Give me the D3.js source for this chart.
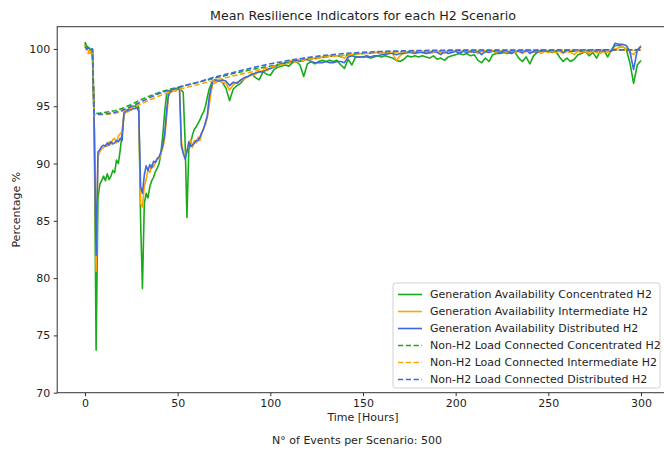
<!DOCTYPE html>
<html>
<head>
<meta charset="utf-8">
<script src="https://cdn.jsdelivr.net/npm/d3@7"></script>
<style>
  html, body { margin: 0; padding: 0; background: #fff; }
  svg { display: block; font-family: "DejaVu Sans", sans-serif; }
</style>
</head>
<body>
<svg id="chart" width="664" height="450"></svg>
<script>
// ---------------- DATA ----------------
const hours = [
  0,1,2,3,4,5,6,7,8,9,
  10,11,12,13,14,15,16,17,18,19,
  20,21,22,23,24,25,26,27,28,29,
  30,31,32,33,34,35,36,37,38,39,
  40,41,42,43,44,45,46,47,48,49,
  50,51,52,53,54,55,56,57,58,59,
  60,61,62,63,64,65,66,67,68,69,
  70,72,74,76,78,80,82,84,86,88,
  90,92,94,96,98,100,102,104,106,108,
  110,112,114,116,118,120,122,124,126,128,
  130,132,134,136,138,140,142,144,146,148,
  150,152,154,156,158,160,162,164,166,168,
  170,172,174,176,178,180,182,184,186,188,
  190,192,194,196,198,200,202,204,206,208,
  210,212,214,216,218,220,222,224,226,228,
  230,232,234,236,238,240,242,244,246,248,
  250,252,254,256,258,260,262,264,266,268,
  270,272,274,276,278,280,282,284,286,288,
  290,292,294,296,298,300
];

const genConcentrated = [
  100.6,100.2,100.1,99.9,99.9,93.0,73.7,87.0,88.2,88.5,
  88.9,88.5,89.1,88.6,88.9,89.4,89.2,90.3,90.0,91.2,
  92.6,94.2,94.6,94.7,94.8,94.9,95.0,95.0,95.1,94.9,
  85.0,79.1,86.5,87.4,87.0,88.0,88.5,88.8,89.3,89.6,
  90.0,91.0,92.5,94.5,96.0,96.3,96.4,96.4,96.5,96.5,
  96.6,96.6,96.4,96.2,92.0,85.3,91.2,91.8,92.5,93.0,
  93.2,93.5,93.8,94.2,94.5,95.0,95.8,96.5,96.9,97.2,
  97.2,97.3,97.1,96.6,95.5,96.5,96.8,97.0,97.4,97.6,
  97.8,97.5,97.3,98.0,97.8,97.7,98.2,98.4,98.5,98.6,
  98.5,98.8,98.9,98.6,97.6,98.7,98.9,98.7,98.9,99.0,
  98.9,99.0,98.9,99.0,98.6,98.3,99.1,98.6,99.3,99.3,
  99.3,99.3,99.2,99.3,99.4,99.3,99.4,99.3,99.2,99.0,
  98.9,99.1,99.4,99.3,99.4,99.3,99.4,99.3,99.2,99.4,
  99.1,99.2,99.0,99.3,99.4,99.5,99.6,99.5,99.6,99.4,
  99.5,99.0,98.8,99.2,98.9,99.5,99.6,99.6,99.7,99.6,
  99.7,99.7,99.2,98.9,99.3,98.7,99.4,99.7,99.8,99.8,
  99.8,99.7,99.8,99.3,98.9,99.2,98.9,99.1,99.5,99.6,
  99.8,99.4,99.7,99.2,99.8,99.9,99.3,99.9,100.3,100.3,
  100.2,100.0,98.8,97.0,98.6,99.0
];

const genIntermediate = [
  100.4,100.0,99.8,99.6,99.9,93.5,80.6,90.6,91.0,91.3,
  91.4,91.6,91.5,91.9,91.7,92.1,92.2,91.8,92.4,92.6,
  92.8,94.3,94.5,94.5,94.6,94.7,94.8,94.8,94.9,94.5,
  86.5,86.2,88.0,88.6,89.5,89.2,89.9,89.7,90.1,90.5,
  90.4,90.9,91.4,92.2,94.0,95.8,96.2,96.3,96.4,96.3,
  96.5,96.5,92.0,91.0,90.6,91.2,91.6,92.1,91.4,92.0,
  91.8,92.3,92.0,92.6,93.1,93.4,94.0,95.0,96.2,97.0,
  97.0,97.2,97.1,97.0,96.4,96.9,97.1,97.2,97.4,97.6,
  97.7,97.8,98.0,98.1,98.1,98.3,98.5,98.6,98.7,98.8,
  98.9,99.0,99.0,99.1,99.1,99.1,99.2,99.2,99.3,99.3,
  99.3,99.4,99.4,99.4,99.3,99.2,99.5,99.5,99.5,99.6,
  99.6,99.6,99.6,99.7,99.7,99.7,99.6,99.7,99.6,99.0,
  99.4,99.7,99.7,99.7,99.7,99.8,99.7,99.7,99.6,99.7,
  99.8,99.7,99.6,99.8,99.8,99.8,99.7,99.8,99.8,99.7,
  99.8,99.6,99.8,99.7,99.8,99.8,99.7,99.8,99.8,99.7,
  99.8,99.7,99.8,99.6,99.8,99.8,99.7,99.8,99.6,99.8,
  99.7,99.8,99.7,99.8,99.6,99.8,99.7,99.5,99.8,99.7,
  99.8,99.6,99.8,99.7,99.6,99.8,99.7,99.8,100.0,100.1,
  100.2,100.0,99.7,99.5,99.9,100.3
];

const genDistributed = [
  100.3,100.0,100.1,99.9,99.9,93.0,82.0,91.0,91.2,91.5,
  91.6,91.5,91.8,91.6,91.9,91.7,91.8,92.0,91.9,92.2,
  92.0,94.4,94.6,94.6,94.7,94.7,94.8,94.8,94.9,94.6,
  88.0,87.4,89.0,89.8,89.4,89.9,89.6,90.2,90.1,90.4,
  90.6,91.0,91.6,92.6,94.5,96.0,96.3,96.3,96.4,96.4,
  96.5,96.5,91.5,90.9,90.4,91.0,91.9,91.5,91.6,91.8,
  92.0,92.0,92.3,92.7,93.0,93.6,94.2,95.8,96.6,97.2,
  97.3,97.2,97.3,97.2,96.8,97.1,97.0,97.3,97.5,97.6,
  97.8,97.9,98.0,98.0,98.2,98.3,98.4,98.6,98.7,98.8,
  98.8,98.9,99.0,98.9,99.0,99.1,98.9,98.8,98.8,98.8,
  98.9,98.8,98.8,98.9,98.9,98.8,99.3,99.4,99.3,99.3,
  99.3,99.4,99.3,99.4,99.4,99.5,99.5,99.6,99.6,99.5,
  99.6,99.6,99.7,99.7,99.6,99.7,99.7,99.6,99.7,99.8,
  99.7,99.5,99.8,99.6,99.7,99.8,99.6,99.8,99.7,99.8,
  99.7,99.8,99.5,99.8,99.7,99.8,99.8,99.7,99.8,99.8,
  99.6,99.8,99.8,99.7,99.9,99.6,99.8,99.7,99.9,99.8,
  99.8,99.9,99.8,99.9,99.7,99.9,99.8,99.8,99.9,99.8,
  99.9,99.8,99.9,99.8,99.9,99.8,99.9,99.8,100.5,100.4,
  100.4,100.3,99.8,98.2,99.9,100.2
];

const loadHours = [0,1,2,3,4,5,8,12,16,20,25,30,35,40,45,50,55,60,65,70,75,80,90,100,110,120,130,140,150,160,170,180,200,220,240,260,280,300];

const loadConcentrated = [100.5,100.2,100.1,99.9,100.0,94.35,94.4,94.5,94.6,94.8,95.15,95.55,95.9,96.2,96.45,96.65,96.85,97.05,97.25,97.45,97.65,97.85,98.2,98.5,98.8,99.05,99.3,99.45,99.6,99.7,99.75,99.8,99.85,99.85,99.85,99.9,99.9,99.9];
const loadIntermediate = [100.3,99.7,99.6,99.9,100.0,94.2,94.25,94.3,94.4,94.55,94.85,95.2,95.55,95.9,96.2,96.45,96.65,96.85,97.05,97.25,97.45,97.65,98.0,98.4,98.75,99.05,99.3,99.45,99.6,99.7,99.75,99.8,99.85,99.85,99.85,99.88,99.9,99.9];
const loadDistributed = [100.2,100.0,100.1,100.0,100.0,94.3,94.3,94.35,94.45,94.65,95.0,95.35,95.75,96.1,96.4,96.6,96.85,97.05,97.3,97.55,97.75,97.95,98.35,98.7,99.0,99.25,99.45,99.6,99.7,99.78,99.83,99.86,99.9,99.9,99.9,99.9,99.92,99.92];

const xTicks = [0, 50, 100, 150, 200, 250, 300];
const yTicks = [70, 75, 80, 85, 90, 95, 100];

const seriesNames = [
  "Generation Availability Concentrated H2",
  "Generation Availability Intermediate H2",
  "Generation Availability Distributed H2",
  "Non-H2 Load Connected Concentrated H2",
  "Non-H2 Load Connected Intermediate H2",
  "Non-H2 Load Connected Distributed H2"
];

// ---------------- CHART ----------------
const GREEN = "#1aab1a", ORANGE = "#ffa500", BLUE = "#3f68dd";
const TXT = "#1e1e1e";
const series = [
  { name: seriesNames[0], t: hours, v: genConcentrated, color: GREEN, dash: null },
  { name: seriesNames[1], t: hours, v: genIntermediate, color: ORANGE, dash: null },
  { name: seriesNames[2], t: hours, v: genDistributed, color: BLUE, dash: null },
  { name: seriesNames[3], t: loadHours, v: loadConcentrated, color: GREEN, dash: "5.2,2.6" },
  { name: seriesNames[4], t: loadHours, v: loadIntermediate, color: ORANGE, dash: "5.2,2.6" },
  { name: seriesNames[5], t: loadHours, v: loadDistributed, color: BLUE, dash: "5.2,2.6" }
];

const svg = d3.select("#chart");
const PL = 57.2, PR = 668.8, PT = 26.7, PB = 392.7;

const x = d3.scaleLinear().domain([-15, 315]).range([PL, PR]);
const y = d3.scaleLinear().domain([70, 101.94]).range([PB, PT]);

svg.append("defs").append("clipPath").attr("id", "clip")
  .append("rect").attr("x", PL).attr("y", PT).attr("width", PR - PL).attr("height", PB - PT);

const plot = svg.append("g").attr("clip-path", "url(#clip)");
const line = d3.line().x(d => x(d[0])).y(d => y(d[1]));

series.forEach(s => {
  const pts = s.t.map((t, i) => [t, s.v[i]]).filter(d => d[1] !== undefined);
  plot.append("path")
    .attr("d", line(pts))
    .attr("fill", "none")
    .attr("stroke", s.color)
    .attr("stroke-width", 1.6)
    .attr("stroke-linejoin", "round")
    .attr("stroke-dasharray", s.dash);
});

// frame
svg.append("rect").attr("x", PL).attr("y", PT).attr("width", PR - PL).attr("height", PB - PT)
  .attr("fill", "none").attr("stroke", "#333").attr("stroke-width", 1);

const xAxis = svg.append("g").attr("transform", `translate(0,${PB})`)
  .call(d3.axisBottom(x).tickValues(xTicks).tickSize(3.5).tickPadding(3.5).tickFormat(d3.format("d")));
const yAxis = svg.append("g").attr("transform", `translate(${PL},0)`)
  .call(d3.axisLeft(y).tickValues(yTicks).tickSize(3.5).tickPadding(3.5).tickFormat(d3.format("d")));
[xAxis, yAxis].forEach(a => {
  a.select(".domain").remove();
  a.selectAll(".tick line").attr("stroke", "#333").attr("stroke-width", 1);
  a.selectAll(".tick text").attr("fill", TXT).style("font-size", "11px").style("font-family", "DejaVu Sans");
});

// titles
svg.append("text").attr("x", (PL + PR) / 2).attr("y", 19.5).attr("text-anchor", "middle")
  .style("font-size", "12.7px").attr("fill", TXT).text("Mean Resilience Indicators for each H2 Scenario");
svg.append("text").attr("x", (PL + PR) / 2).attr("y", 421).attr("text-anchor", "middle")
  .style("font-size", "11px").attr("fill", TXT).text("Time [Hours]");
svg.append("text").attr("transform", `translate(20,${(PT + PB) / 2}) rotate(-90)`).attr("text-anchor", "middle")
  .style("font-size", "11px").attr("fill", TXT).text("Percentage %");
svg.append("text").attr("x", 357).attr("y", 444).attr("text-anchor", "middle")
  .style("font-size", "11px").attr("fill", TXT).text("N° of Events per Scenario: 500");

// legend
const lg = svg.append("g");
const lx = 393, ly = 283, lw = 267, lh = 105;
lg.append("rect").attr("x", lx).attr("y", ly).attr("width", lw).attr("height", lh).attr("rx", 2.5)
  .attr("fill", "#fff").attr("fill-opacity", 0.85).attr("stroke", "#d0d0d0").attr("stroke-width", 1);
series.forEach((s, i) => {
  const yy = ly + 11.5 + i * 17;
  lg.append("line").attr("x1", lx + 5).attr("x2", lx + 29).attr("y1", yy).attr("y2", yy)
    .attr("stroke", s.color).attr("stroke-width", 1.6).attr("stroke-dasharray", s.dash);
  lg.append("text").attr("x", lx + 37).attr("y", yy).attr("dy", "0.35em")
    .style("font-size", "11px").attr("fill", TXT).text(s.name);
});
</script>
</body>
</html>
